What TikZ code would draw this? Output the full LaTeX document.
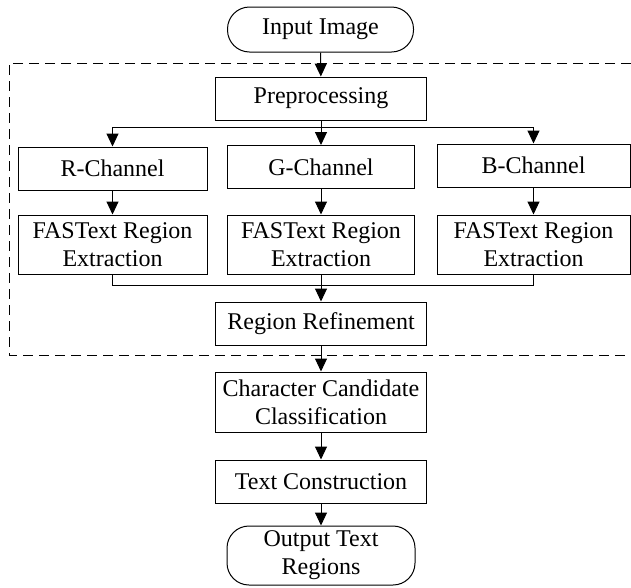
\documentclass[tikz,border=0pt]{standalone}
\usepackage{fontspec}
\setmainfont{Liberation Serif}
\usetikzlibrary{arrows.meta}
\begin{document}
\begin{tikzpicture}[x=1pt,y=-1pt,
  box/.style={draw,line width=1pt,inner sep=0pt,align=center,font=\fontsize{24}{28}\selectfont},
  term/.style={box,rounded corners=22pt},
  arr/.style={line width=1pt,-{Triangle[length=13pt,width=12pt]}},
  ln/.style={line width=1pt},
  grp/.style={line width=1pt,dash pattern=on 10pt off 6pt}]
\useasboundingbox (0,0) rectangle (631,587);
\draw[grp] (631,63) -- (9,63) -- (9,355) -- (631,355);
\node[term,minimum width=186pt,minimum height=45pt] (in) at (320.5,29.5) {Input Image};
\node[box,minimum width=211pt,minimum height=43pt] (pre) at (321,98.5) {Preprocessing};
\node[box,minimum width=189pt,minimum height=43pt] (r) at (112.5,168.5) {R-Channel};
\node[box,minimum width=187pt,minimum height=43pt] (g) at (321,167) {G-Channel};
\node[box,minimum width=193pt,minimum height=43pt] (b) at (533.5,165.5) {B-Channel};
\node[box,minimum width=189pt,minimum height=59pt] (fr) at (112.5,244.5) {FASText Region\\Extraction};
\node[box,minimum width=187pt,minimum height=59pt] (fg) at (321,244.5) {FASText Region\\Extraction};
\node[box,minimum width=193pt,minimum height=59pt] (fb) at (533.5,244.5) {FASText Region\\Extraction};
\node[box,minimum width=211pt,minimum height=43pt] (ref) at (321,323.5) {Region Refinement};
\node[box,minimum width=211pt,minimum height=60pt] (ccc) at (321,402) {Character Candidate\\Classification};
\node[box,minimum width=211pt,minimum height=43pt] (tc) at (321,481.5) {Text Construction};
\node[term,minimum width=188pt,minimum height=59pt] (out) at (321,555.5) {Output Text\\Regions};
\coordinate (br) at (321,127);
\coordinate (mg) at (321,285);
\draw[arr] (in) -- (pre);
\draw[ln] (pre.south) -- (br);
\draw[arr] (br) -| (r.north);
\draw[arr] (br) -- (g.north);
\draw[arr] (br) -| (b.north);
\draw[arr] (r) -- (fr);
\draw[arr] (g) -- (fg);
\draw[arr] (b) -- (fb);
\draw[ln] (fr.south) |- (mg);
\draw[ln] (fb.south) |- (mg);
\draw[ln] (fg.south) -- (mg);
\draw[arr] (mg) -- (ref.north);
\draw[arr] (ref) -- (ccc);
\draw[arr] (ccc) -- (tc);
\draw[arr] (tc) -- (out);
\end{tikzpicture}
\end{document}
